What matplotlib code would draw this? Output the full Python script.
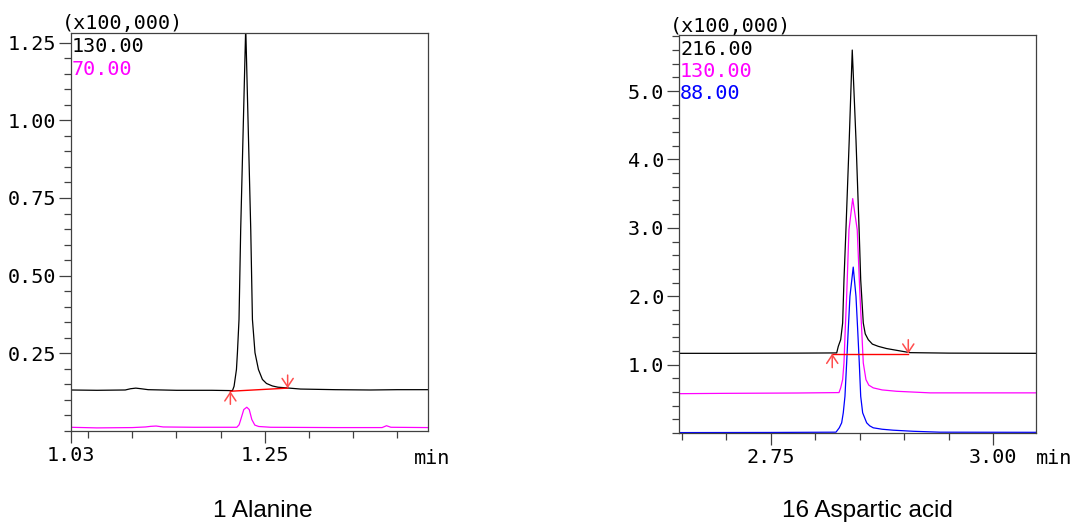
import matplotlib
matplotlib.use("Agg")
import matplotlib.pyplot as plt
from matplotlib.ticker import FixedLocator, MultipleLocator, FixedFormatter

plt.rcParams['font.family'] = ['DejaVu Sans Mono']

# ---- 1 Alanine ----
ala_t_130 = [1.030, 1.060, 1.092, 1.098, 1.104, 1.110, 1.118, 1.150, 1.190, 1.2135, 1.2153,
             1.2164, 1.2180, 1.2191, 1.2209, 1.2228, 1.2285, 1.2342, 1.2361, 1.2390, 1.2429,
             1.2474, 1.2520, 1.2587, 1.2650, 1.2737, 1.2906, 1.330, 1.370, 1.400, 1.435]
ala_i_130 = [0.132, 0.131, 0.132, 0.136, 0.138, 0.136, 0.133, 0.131, 0.131, 0.130, 0.144,
             0.166, 0.198, 0.252, 0.359, 0.648, 1.300, 0.648, 0.359, 0.252, 0.198,
             0.166, 0.153, 0.145, 0.141, 0.139, 0.135, 0.133, 0.132, 0.133, 0.133]
ala_t_70 = [1.030, 1.060, 1.100, 1.115, 1.121, 1.127, 1.135, 1.170, 1.2184, 1.2210, 1.2229,
            1.2263, 1.2297, 1.2325, 1.2354, 1.2388, 1.2432, 1.2568, 1.330, 1.3830, 1.3880,
            1.3930, 1.435]
ala_i_70 = [0.012, 0.010, 0.011, 0.013, 0.015, 0.016, 0.013, 0.012, 0.012, 0.020, 0.037,
            0.069, 0.0765, 0.069, 0.037, 0.019, 0.0145, 0.012, 0.011, 0.011, 0.017,
            0.012, 0.011]
ala_base_t = [1.2111, 1.2760]
ala_base_i = [0.128, 0.138]

# ---- 16 Aspartic acid ----
asp_t_216 = [2.6466, 2.700, 2.780, 2.8239, 2.8257, 2.8284, 2.8306, 2.8321, 2.8343,
             2.8380, 2.8414, 2.8456, 2.8493, 2.8509, 2.8538, 2.8560, 2.8594, 2.8640,
             2.8707, 2.8800, 2.8913, 2.9063, 2.950, 3.048]
asp_i_216 = [1.165, 1.165, 1.168, 1.171, 1.267, 1.365, 1.609, 2.241, 2.971,
             4.285, 5.600, 4.285, 2.900, 2.241, 1.609, 1.450, 1.365, 1.300,
             1.267, 1.235, 1.209, 1.175, 1.168, 1.165]
asp_t_130 = [2.6466, 2.700, 2.780, 2.8265, 2.8284, 2.8306, 2.8321, 2.8335, 2.8351,
             2.8377, 2.8419, 2.8470, 2.8501, 2.8520, 2.8538, 2.8568, 2.8600, 2.8650,
             2.8750, 2.8913, 2.9288, 3.048]
asp_i_130 = [0.575, 0.580, 0.585, 0.591, 0.660, 0.781, 1.025, 1.511, 1.997,
             2.971, 3.428, 2.971, 1.997, 1.511, 1.025, 0.781, 0.700, 0.660,
             0.630, 0.610, 0.587, 0.587]
asp_t_88 = [2.6466, 2.750, 2.8231, 2.8268, 2.8295, 2.8313, 2.8332, 2.8351, 2.8369,
            2.8388, 2.8425, 2.8456, 2.8475, 2.8493, 2.8509, 2.8531, 2.8576, 2.8610,
            2.8650, 2.8750, 2.8875, 2.9100, 2.940, 3.048]
asp_i_88 = [0.006, 0.008, 0.012, 0.076, 0.149, 0.295, 0.537, 1.025, 1.511,
            1.997, 2.426, 1.997, 1.511, 1.025, 0.537, 0.295, 0.149, 0.105,
            0.076, 0.055, 0.041, 0.025, 0.012, 0.010]
asp_base_t = [2.8189, 2.9044]
asp_base_i = [1.160, 1.160]

W, H = 1079, 524
fig = plt.figure(figsize=(W / 100, H / 100), dpi=100)

spine_col = '#404040'
fs = 14.5


def style_axes(ax):
    for s in ax.spines.values():
        s.set_color(spine_col)
        s.set_linewidth(0.9)
    ax.tick_params(which='major', direction='out', length=8.5, width=0.9,
                   color=spine_col, labelsize=fs, pad=2)
    ax.tick_params(which='minor', direction='out', length=5, width=0.9, color=spine_col)
    ax.tick_params(axis='y', which='both', right=False)
    ax.tick_params(axis='x', which='both', top=False)


def mark_baseline(ax, bt, bi, arr_len):
    ax.plot(bt, bi, color='#ff0000', lw=1.0)
    kw = dict(arrowstyle='->,head_length=0.6,head_width=0.4', color='#ff4d4d',
              lw=1.1, shrinkA=0, shrinkB=0)
    ax.annotate('', xy=(bt[0], bi[0]), xytext=(bt[0], bi[0] - arr_len), arrowprops=kw)
    ax.annotate('', xy=(bt[1], bi[1]), xytext=(bt[1], bi[1] + arr_len), arrowprops=kw)


# left panel
ax1 = fig.add_axes([70.5 / W, 1 - 431 / H, (428 - 70.5) / W, (431 - 33) / H])
ax1.plot(ala_t_70, ala_i_70, color='#ff00ff', lw=0.9)
ax1.plot(ala_t_130, ala_i_130, color='black', lw=0.9)
mark_baseline(ax1, ala_base_t, ala_base_i, 0.042)
ax1.set_xlim(1.03, 1.435)
ax1.set_ylim(0, 1.281)
ax1.xaxis.set_major_locator(FixedLocator([1.03, 1.25]))
ax1.xaxis.set_major_formatter(FixedFormatter(['1.03', '1.25']))
ax1.xaxis.set_minor_locator(FixedLocator([1.05, 1.10, 1.15, 1.20, 1.30, 1.35, 1.40]))
ax1.yaxis.set_major_locator(FixedLocator([0.25, 0.50, 0.75, 1.00, 1.25]))
ax1.yaxis.set_major_formatter(FixedFormatter(['0.25', '0.50', '0.75', '1.00', '1.25']))
ax1.yaxis.set_minor_locator(MultipleLocator(0.05))
style_axes(ax1)

# right panel
ax2 = fig.add_axes([679 / W, 1 - 433 / H, (1036 - 679) / W, (433 - 35) / H])
ax2.plot(asp_t_88, asp_i_88, color='#0000ff', lw=0.9)
ax2.plot(asp_t_130, asp_i_130, color='#ff00ff', lw=0.9)
ax2.plot(asp_t_216, asp_i_216, color='black', lw=0.9)
mark_baseline(ax2, asp_base_t, asp_base_i, 0.204)
ax2.set_xlim(2.6466, 3.048)
ax2.set_ylim(0, 5.82)
ax2.xaxis.set_major_locator(FixedLocator([2.75, 3.00]))
ax2.xaxis.set_major_formatter(FixedFormatter(['2.75', '3.00']))
ax2.xaxis.set_minor_locator(FixedLocator([2.65, 2.70, 2.80, 2.85, 2.90, 2.95]))
ax2.yaxis.set_major_locator(FixedLocator([1.0, 2.0, 3.0, 4.0, 5.0]))
ax2.yaxis.set_major_formatter(FixedFormatter(['1.0', '2.0', '3.0', '4.0', '5.0']))
ax2.yaxis.set_minor_locator(MultipleLocator(0.2))
style_axes(ax2)


# texts (pixel positions converted to figure fractions)
def ftext(x, y, s, **kw):
    fig.text(x / W, 1 - y / H, s, va='baseline', ha='left', **kw)


ftext(61.5, 29.5, '(x100,000)', fontsize=fs)
ftext(71.5, 52.5, '130.00', fontsize=fs, color='black')
ftext(71.5, 75, '70.00', fontsize=fs, color='#ff00ff')
ftext(414, 464, 'min', fontsize=fs)

ftext(670, 32, '(x100,000)', fontsize=fs)
ftext(680, 55, '216.00', fontsize=fs, color='black')
ftext(680, 77, '130.00', fontsize=fs, color='#ff00ff')
ftext(680, 99, '88.00', fontsize=fs, color='#0000ff')
ftext(1036, 464, 'min', fontsize=fs)

fig.text(262.5 / W, 1 - 511 / H, '1 Alanine', ha='center', va='center',
         fontsize=17.5, family='Liberation Sans')
fig.text(867.5 / W, 1 - 511 / H, '16 Aspartic acid', ha='center', va='center',
         fontsize=17.5, family='Liberation Sans')

fig.savefig('out.png', dpi=100)
